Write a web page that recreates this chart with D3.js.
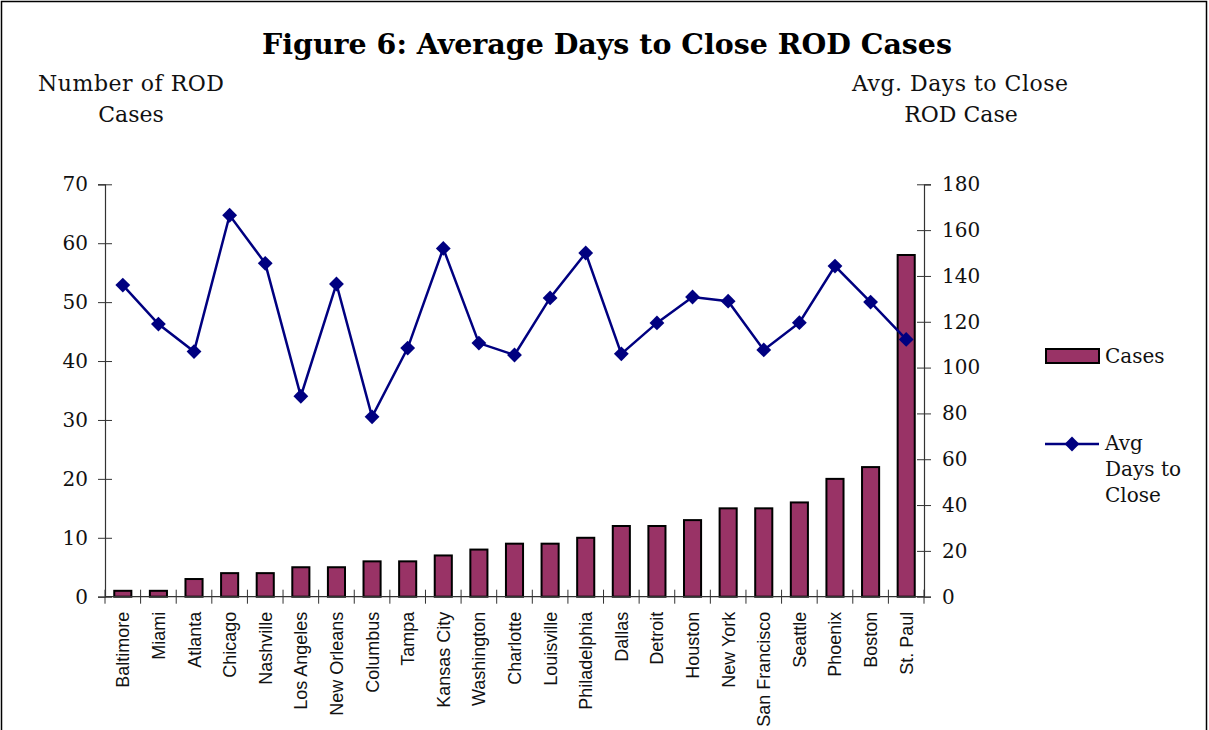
<!DOCTYPE html>
<html>
<head>
<meta charset="utf-8">
<script src="https://cdnjs.cloudflare.com/ajax/libs/d3/7.8.5/d3.min.js"></script>
<style>
  body { margin: 0; background: #fff; }
  svg { display: block; }
</style>
</head>
<body>
<svg id="chart" width="1209" height="730"></svg>
<script>
const cities = ["Baltimore", "Miami", "Atlanta", "Chicago", "Nashville", "Los Angeles", "New Orleans",
    "Columbus", "Tampa", "Kansas City", "Washington", "Charlotte", "Louisville", "Philadelphia",
    "Dallas", "Detroit", "Houston", "New York", "San Francisco", "Seattle", "Phoenix", "Boston", "St. Paul"];
const cases = [1, 1, 3, 4, 4, 5, 5, 6, 6, 7, 8, 9, 9, 10, 12, 12, 13, 15, 15, 16, 20, 22, 58];
const avgDays = [136, 119, 107, 166.5, 145.5, 87.5, 136.5, 78.5, 108.5, 152, 110.7, 105.5, 130.4, 150,
    106, 119.5, 130.8, 129, 107.7, 119.6, 144.3, 128.6, 112.3];
const leftTicks = [0, 10, 20, 30, 40, 50, 60, 70];
const rightTicks = [0, 20, 40, 60, 80, 100, 120, 140, 160, 180];

const svg = d3.select("#chart");
const serif = "'DejaVu Serif', 'Liberation Serif', serif";
const sans = "'Liberation Sans', Arial, sans-serif";

// outer frame
svg.append("rect")
    .attr("x", 1.5).attr("y", 1.5).attr("width", 1205).attr("height", 740)
    .attr("fill", "none").attr("stroke", "#000").attr("stroke-width", 1.5);

const plotLeft = 105, plotRight = 924, plotTop = 184.3, plotBottom = 596.7;

const x = d3.scaleBand().domain(cities).range([plotLeft, plotRight]).paddingInner(0.52).paddingOuter(0.26);
const xBand = d3.scaleBand().domain(cities).range([plotLeft, plotRight]);
const yL = d3.scaleLinear().domain([0, 70]).range([plotBottom, plotTop]);
const yR = d3.scaleLinear().domain([0, 180]).range([plotBottom, plotTop]);

// title and axis titles
svg.append("text")
    .attr("x", 607).attr("y", 54)
    .attr("text-anchor", "middle")
    .attr("textLength", 690).attr("lengthAdjust", "spacingAndGlyphs")
    .style("font-family", serif).style("font-weight", "bold").style("font-size", "27px")
    .text("Figure 6: Average Days to Close ROD Cases");

const leftTitle = svg.append("text")
    .attr("text-anchor", "middle")
    .style("font-family", serif).style("font-size", "22px").style("fill", "#111");
leftTitle.append("tspan").attr("x", 131).attr("y", 91).attr("textLength", 186).text("Number of ROD");
leftTitle.append("tspan").attr("x", 131).attr("y", 122).text("Cases");

const rightTitle = svg.append("text")
    .attr("text-anchor", "middle")
    .style("font-family", serif).style("font-size", "22px").style("fill", "#111");
rightTitle.append("tspan").attr("x", 960).attr("y", 91).attr("textLength", 216).text("Avg. Days to Close");
rightTitle.append("tspan").attr("x", 961).attr("y", 122).text("ROD Case");

// bars
svg.append("g").selectAll("rect")
    .data(cities)
    .join("rect")
    .attr("x", d => x(d))
    .attr("y", (d, i) => yL(cases[i]))
    .attr("width", x.bandwidth())
    .attr("height", (d, i) => plotBottom - yL(cases[i]))
    .attr("fill", "#993366")
    .attr("stroke", "#000")
    .attr("stroke-width", 2);

// axes
const axisColor = "#333";
const leftAxis = svg.append("g")
    .attr("transform", `translate(${plotLeft},0)`)
    .call(d3.axisLeft(yL).tickValues(leftTicks).tickSize(7).tickPadding(10));
leftAxis.selectAll(".tick line").attr("x2", 7).attr("x1", -7);

const rightAxis = svg.append("g")
    .attr("transform", `translate(${plotRight},0)`)
    .call(d3.axisRight(yR).tickValues(rightTicks).tickSize(7).tickPadding(11));
rightAxis.selectAll(".tick line").attr("x1", -7).attr("x2", 7);

const bottomAxis = svg.append("g")
    .attr("transform", `translate(0,${plotBottom})`)
    .call(d3.axisBottom(xBand).tickSize(0).tickPadding(0));
bottomAxis.selectAll(".tick text")
    .attr("transform", "rotate(-90)")
    .attr("x", -15).attr("y", 0).attr("dy", "0.36em")
    .attr("text-anchor", "end")
    .style("font-family", sans).style("font-size", "18px").style("fill", "#111");
bottomAxis.selectAll(".divider")
    .data(d3.range(cities.length + 1))
    .join("line")
    .attr("class", "divider")
    .attr("x1", i => plotLeft + i * xBand.step())
    .attr("x2", i => plotLeft + i * xBand.step())
    .attr("y1", -7).attr("y2", 7)
    .attr("stroke", axisColor);

[leftAxis, rightAxis].forEach(a => {
    a.selectAll("text").style("font-family", serif).style("font-size", "20px").style("fill", "#111");
});
[leftAxis, rightAxis, bottomAxis].forEach(a => {
    a.select(".domain").attr("stroke", axisColor).attr("stroke-width", 1.2);
    a.selectAll(".tick line").attr("stroke", axisColor);
});
bottomAxis.select(".domain").attr("d", `M${plotLeft},0H${plotRight}`);

// line series
const cx = d => xBand(d) + xBand.bandwidth() / 2;
const line = d3.line()
    .x((d, i) => cx(cities[i]))
    .y(d => yR(d));

svg.append("path")
    .datum(avgDays)
    .attr("d", line)
    .attr("fill", "none")
    .attr("stroke", "#000080")
    .attr("stroke-width", 2.5);

const diamond = d3.symbol().type(d3.symbolSquare).size(110);
svg.append("g").selectAll("path")
    .data(avgDays)
    .join("path")
    .attr("d", diamond)
    .attr("transform", (d, i) => `translate(${cx(cities[i])},${yR(d)}) rotate(45)`)
    .attr("fill", "#000080");

// legend
const legend = svg.append("g").style("font-family", serif).style("font-size", "20px").style("fill", "#111");
legend.append("rect")
    .attr("x", 1046).attr("y", 349).attr("width", 53).attr("height", 14)
    .attr("fill", "#993366").attr("stroke", "#000").attr("stroke-width", 2);
legend.append("text").attr("x", 1105).attr("y", 363).text("Cases");

legend.append("line")
    .attr("x1", 1045).attr("x2", 1099).attr("y1", 444).attr("y2", 444)
    .attr("stroke", "#000080").attr("stroke-width", 2.5);
legend.append("path")
    .attr("d", diamond)
    .attr("transform", "translate(1072,444) rotate(45)")
    .attr("fill", "#000080");
const lt = legend.append("text");
lt.append("tspan").attr("x", 1105).attr("y", 450).text("Avg");
lt.append("tspan").attr("x", 1105).attr("y", 476).text("Days to");
lt.append("tspan").attr("x", 1105).attr("y", 502).text("Close");
</script>
</body>
</html>
